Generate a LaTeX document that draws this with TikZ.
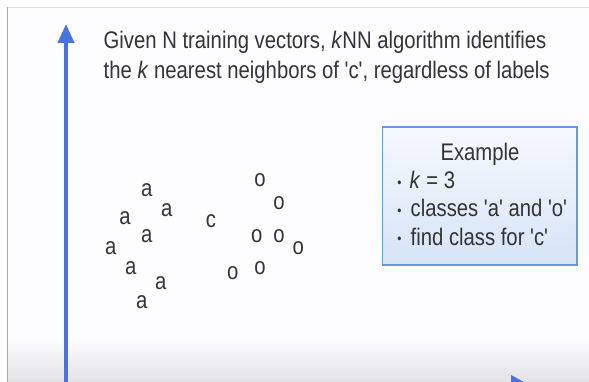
\documentclass[tikz,border=0pt]{standalone}
\usepackage{graphicx}
\usepackage{fontspec}
\setmainfont{Liberation Sans}[Ligatures=TeXOff]
\usetikzlibrary{arrows.meta}
\definecolor{axisblue}{RGB}{74,114,224}
\definecolor{boxblue}{RGB}{105,152,225}
\definecolor{boxtop}{RGB}{246,249,254}
\definecolor{boxbot}{RGB}{214,228,247}
\definecolor{ink}{RGB}{52,52,52}
\definecolor{slidebg}{RGB}{253,252,254}
\definecolor{botgrey}{RGB}{226,226,229}
\newcommand{\sq}[1]{\scalebox{0.845}[1]{#1}}
\begin{document}
\begin{tikzpicture}[x=1pt,y=-1pt,
  txt/.style={text=ink,inner sep=0pt,font=\fontsize{24}{28}\selectfont},
  pt/.style={txt,anchor=center},
  bul/.style={text=ink,inner sep=0pt,font=\fontsize{14}{14}\selectfont,anchor=center},
  axis/.style={draw=axisblue,line width=4pt,-{Triangle[width=16pt,length=19pt]}},
  examplebox/.style={draw=boxblue,line width=1.5pt,top color=boxtop,bottom color=boxbot}]
\useasboundingbox (0,0) rectangle (589,382);
\fill[white] (0,0) rectangle (589,382);
\fill[slidebg] (7,7) rectangle (589,382);
\shade[top color=slidebg,bottom color=botgrey] (7,338) rectangle (589,382);
\draw[gray!70,line width=1pt] (7.5,382) -- (7.5,7.5) -- (589,7.5);
\draw[gray!25,line width=0.8pt] (8,7.5) -- (589,7.5);
% y axis
\coordinate (ybot) at (66,382);
\coordinate (ytop) at (66,24);
\draw[axis] (ybot) -- (ytop);
% x axis arrow tip peeking at bottom
\begin{scope}
\clip (0,0) rectangle (589,382);
\fill[axisblue] (511,375) -- (546,394) -- (511,413) -- cycle;
\end{scope}
% title
\node[txt,anchor=base west] (t1) at (103.5,49) {\sq{Given N training vectors, \textit{k}NN algorithm identifies}};
\node[txt,anchor=base west] (t2) at (103.5,79) {\sq{the \textit{k} nearest neighbors of 'c', regardless of labels}};
% points a
\node[pt] (a1) at (146.7,190.5) {\sq{a}};
\node[pt] (a2) at (166.7,210) {\sq{a}};
\node[pt] (a3) at (125,218) {\sq{a}};
\node[pt] (a4) at (146.7,236.5) {\sq{a}};
\node[pt] (a5) at (110.7,248) {\sq{a}};
\node[pt] (a6) at (130.7,268) {\sq{a}};
\node[pt] (a7) at (160.7,283) {\sq{a}};
\node[pt] (a8) at (141.7,302.5) {\sq{a}};
% query c
\node[pt] (c) at (211,221) {\sq{c}};
% points o
\node[pt] (o1) at (260,180) {\sq{o}};
\node[pt] (o2) at (279,202.7) {\sq{o}};
\node[pt] (o3) at (256.7,236) {\sq{o}};
\node[pt] (o4) at (279,236) {\sq{o}};
\node[pt] (o5) at (298.3,248.3) {\sq{o}};
\node[pt] (o6) at (260,268.3) {\sq{o}};
\node[pt] (o7) at (232.7,273.3) {\sq{o}};
% example box
\draw[examplebox] (382.5,127) rectangle (577,265);
\node[txt,anchor=base] (ex) at (480,160.5) {\sq{Example}};
\node[bul] (b1) at (399.5,184.5) {\sq{•}};
\node[bul] (b2) at (399.5,212.5) {\sq{•}};
\node[bul] (b3) at (399.5,240.5) {\sq{•}};
\node[txt,anchor=base west] (l1) at (409.5,189) {\sq{\textit{k} = 3}};
\node[txt,anchor=base west] (l2) at (410.5,217) {\sq{classes 'a' and 'o'}};
\node[txt,anchor=base west] (l3) at (410.5,245) {\sq{find class for 'c'}};
\end{tikzpicture}
\end{document}
